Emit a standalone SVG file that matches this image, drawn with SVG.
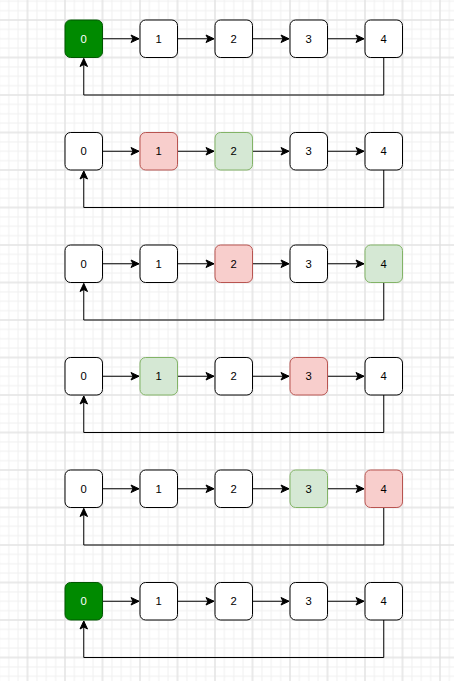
<svg xmlns="http://www.w3.org/2000/svg" width="454" height="681" viewBox="0 0 454 681">
<style>
.n{fill:#ffffff;stroke:#000000;stroke-width:1}
.g{fill:#008a00;stroke:#005700;stroke-width:1}
.r{fill:#f8cecc;stroke:#b85450;stroke-width:1}
.lg{fill:#d5e8d4;stroke:#82b366;stroke-width:1}
text{font-family:"Liberation Sans",Arial,sans-serif;font-size:11.25px;text-anchor:middle;fill:#000000}
.wt{fill:#ffffff}
.e{fill:none;stroke:#000000;stroke-width:1;marker-end:url(#arr)}
</style>
<defs>
<pattern id="minor" patternUnits="userSpaceOnUse" x="4.0625" y="-3.4375" width="9.375" height="9.375">
<path d="M4.6875,0 V9.375 M0,4.6875 H9.375" stroke="#f0f0f0" stroke-width="1" fill="none"/>
</pattern>
<pattern id="major" patternUnits="userSpaceOnUse" x="8.75" y="1.25" width="37.5" height="37.5">
<path d="M18.75,0 V37.5 M0,18.75 H37.5" stroke="#dedede" stroke-width="1" fill="none"/>
</pattern>
<marker id="arr" markerUnits="userSpaceOnUse" markerWidth="12" markerHeight="12" viewBox="-10 -6 12 12" refX="0" refY="0" orient="auto">
<path d="M0,0 L-8,-3.75 L-6,0 L-8,3.75 Z" fill="#000000" stroke="#000000" stroke-width="1"/>
</marker>
</defs>
<rect width="454" height="681" fill="#ffffff"/>
<rect width="454" height="681" fill="url(#minor)"/>
<rect width="454" height="681" fill="url(#major)"/>

<g id="connectors">
<path class="e" d="M102.5,38.75 H139"/>
<path class="e" d="M177.5,38.75 H214"/>
<path class="e" d="M252.5,38.75 H289"/>
<path class="e" d="M327.5,38.75 H364"/>
<path class="e" d="M383.75,57.5 V95 H83.75 V58.5"/>

<path class="e" d="M102.5,151.25 H139"/>
<path class="e" d="M177.5,151.25 H214"/>
<path class="e" d="M252.5,151.25 H289"/>
<path class="e" d="M327.5,151.25 H364"/>
<path class="e" d="M383.75,170 V207.5 H83.75 V171"/>

<path class="e" d="M102.5,263.75 H139"/>
<path class="e" d="M177.5,263.75 H214"/>
<path class="e" d="M252.5,263.75 H289"/>
<path class="e" d="M327.5,263.75 H364"/>
<path class="e" d="M383.75,282.5 V320 H83.75 V283.5"/>

<path class="e" d="M102.5,376.25 H139"/>
<path class="e" d="M177.5,376.25 H214"/>
<path class="e" d="M252.5,376.25 H289"/>
<path class="e" d="M327.5,376.25 H364"/>
<path class="e" d="M383.75,395 V432.5 H83.75 V396"/>

<path class="e" d="M102.5,488.75 H139"/>
<path class="e" d="M177.5,488.75 H214"/>
<path class="e" d="M252.5,488.75 H289"/>
<path class="e" d="M327.5,488.75 H364"/>
<path class="e" d="M383.75,507.5 V545 H83.75 V508.5"/>

<path class="e" d="M102.5,601.25 H139"/>
<path class="e" d="M177.5,601.25 H214"/>
<path class="e" d="M252.5,601.25 H289"/>
<path class="e" d="M327.5,601.25 H364"/>
<path class="e" d="M383.75,620 V657.5 H83.75 V621"/>
</g>

<!-- Row 1 -->
<g id="r1n0"><rect class="g" x="65" y="20" width="37.5" height="37.5" rx="5.6"/><text class="wt" x="83.75" y="42.75">0</text></g>
<g id="r1n1"><rect class="n" x="140" y="20" width="37.5" height="37.5" rx="5.6"/><text x="158.75" y="42.75">1</text></g>
<g id="r1n2"><rect class="n" x="215" y="20" width="37.5" height="37.5" rx="5.6"/><text x="233.75" y="42.75">2</text></g>
<g id="r1n3"><rect class="n" x="290" y="20" width="37.5" height="37.5" rx="5.6"/><text x="308.75" y="42.75">3</text></g>
<g id="r1n4"><rect class="n" x="365" y="20" width="37.5" height="37.5" rx="5.6"/><text x="383.75" y="42.75">4</text></g>

<!-- Row 2 -->
<g id="r2n0"><rect class="n" x="65" y="132.5" width="37.5" height="37.5" rx="5.6"/><text x="83.75" y="155.25">0</text></g>
<g id="r2n1"><rect class="r" x="140" y="132.5" width="37.5" height="37.5" rx="5.6"/><text x="158.75" y="155.25">1</text></g>
<g id="r2n2"><rect class="lg" x="215" y="132.5" width="37.5" height="37.5" rx="5.6"/><text x="233.75" y="155.25">2</text></g>
<g id="r2n3"><rect class="n" x="290" y="132.5" width="37.5" height="37.5" rx="5.6"/><text x="308.75" y="155.25">3</text></g>
<g id="r2n4"><rect class="n" x="365" y="132.5" width="37.5" height="37.5" rx="5.6"/><text x="383.75" y="155.25">4</text></g>

<!-- Row 3 -->
<g id="r3n0"><rect class="n" x="65" y="245" width="37.5" height="37.5" rx="5.6"/><text x="83.75" y="267.75">0</text></g>
<g id="r3n1"><rect class="n" x="140" y="245" width="37.5" height="37.5" rx="5.6"/><text x="158.75" y="267.75">1</text></g>
<g id="r3n2"><rect class="r" x="215" y="245" width="37.5" height="37.5" rx="5.6"/><text x="233.75" y="267.75">2</text></g>
<g id="r3n3"><rect class="n" x="290" y="245" width="37.5" height="37.5" rx="5.6"/><text x="308.75" y="267.75">3</text></g>
<g id="r3n4"><rect class="lg" x="365" y="245" width="37.5" height="37.5" rx="5.6"/><text x="383.75" y="267.75">4</text></g>

<!-- Row 4 -->
<g id="r4n0"><rect class="n" x="65" y="357.5" width="37.5" height="37.5" rx="5.6"/><text x="83.75" y="380.25">0</text></g>
<g id="r4n1"><rect class="lg" x="140" y="357.5" width="37.5" height="37.5" rx="5.6"/><text x="158.75" y="380.25">1</text></g>
<g id="r4n2"><rect class="n" x="215" y="357.5" width="37.5" height="37.5" rx="5.6"/><text x="233.75" y="380.25">2</text></g>
<g id="r4n3"><rect class="r" x="290" y="357.5" width="37.5" height="37.5" rx="5.6"/><text x="308.75" y="380.25">3</text></g>
<g id="r4n4"><rect class="n" x="365" y="357.5" width="37.5" height="37.5" rx="5.6"/><text x="383.75" y="380.25">4</text></g>

<!-- Row 5 -->
<g id="r5n0"><rect class="n" x="65" y="470" width="37.5" height="37.5" rx="5.6"/><text x="83.75" y="492.75">0</text></g>
<g id="r5n1"><rect class="n" x="140" y="470" width="37.5" height="37.5" rx="5.6"/><text x="158.75" y="492.75">1</text></g>
<g id="r5n2"><rect class="n" x="215" y="470" width="37.5" height="37.5" rx="5.6"/><text x="233.75" y="492.75">2</text></g>
<g id="r5n3"><rect class="lg" x="290" y="470" width="37.5" height="37.5" rx="5.6"/><text x="308.75" y="492.75">3</text></g>
<g id="r5n4"><rect class="r" x="365" y="470" width="37.5" height="37.5" rx="5.6"/><text x="383.75" y="492.75">4</text></g>

<!-- Row 6 -->
<g id="r6n0"><rect class="g" x="65" y="582.5" width="37.5" height="37.5" rx="5.6"/><text class="wt" x="83.75" y="605.25">0</text></g>
<g id="r6n1"><rect class="n" x="140" y="582.5" width="37.5" height="37.5" rx="5.6"/><text x="158.75" y="605.25">1</text></g>
<g id="r6n2"><rect class="n" x="215" y="582.5" width="37.5" height="37.5" rx="5.6"/><text x="233.75" y="605.25">2</text></g>
<g id="r6n3"><rect class="n" x="290" y="582.5" width="37.5" height="37.5" rx="5.6"/><text x="308.75" y="605.25">3</text></g>
<g id="r6n4"><rect class="n" x="365" y="582.5" width="37.5" height="37.5" rx="5.6"/><text x="383.75" y="605.25">4</text></g>
</svg>
